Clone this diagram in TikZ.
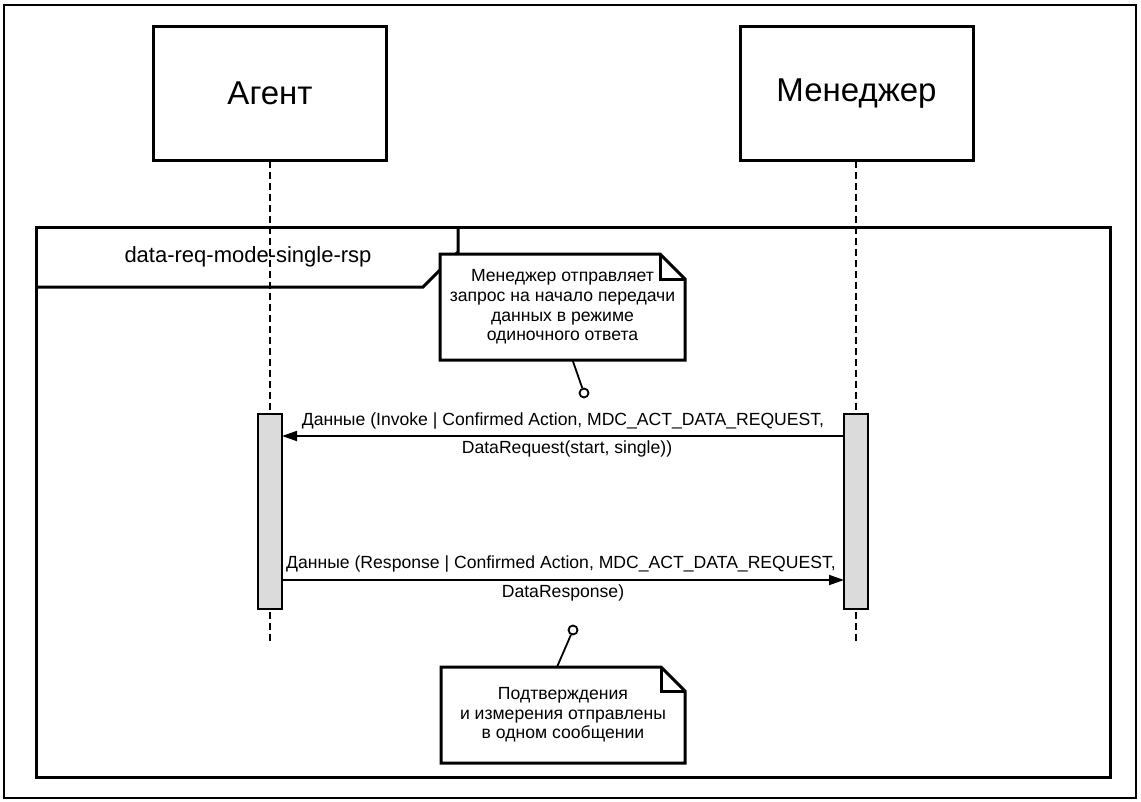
\documentclass[tikz,border=0pt]{standalone}
\usepackage{fontspec}
\setmainfont{Liberation Sans}
\usetikzlibrary{arrows.meta,calc}
\begin{document}
\begin{tikzpicture}[x=1pt,y=-1pt,
  actor/.style={draw, line width=3pt, minimum width=233pt, minimum height=134pt, outer sep=0pt, inner sep=0pt, font=\fontsize{33}{36}\selectfont},
  lifeline/.style={line width=2pt, dash pattern=on 7pt off 4pt},
  actbar/.style={draw, line width=2.5pt, fill=black!14, minimum width=24pt, minimum height=195pt, outer sep=0pt, inner sep=0pt},
  msg/.style={line width=1.8pt, -{Triangle[length=15pt,width=10pt]}},
  lbl/.style={font=\fontsize{17.6}{20}\selectfont, inner sep=0pt},
  notebody/.style={fill=white, outer sep=0pt, inner sep=0pt, align=center, font=\fontsize{17.6}{19.6}\selectfont},
  noteline/.style={line width=3pt, line join=miter},
  pin/.style={circle, draw, line width=1.8pt, fill=white, minimum size=9pt, inner sep=0pt},
  pinline/.style={line width=1.8pt},
]
\useasboundingbox (0,0) rectangle (1141,801);
% outer border
\draw[line width=2.5pt] (4,5) rectangle (1136,798);

% actors
\node[actor] (agent) at (270,93.5) {Агент};
\node[actor] (manager) at (856.5,93.5) {Менеджер};

% fragment frame
\node[draw, line width=3pt, minimum width=1074pt, minimum height=550pt, outer sep=0pt, inner sep=0pt] (frame) at (573,502) {};
\coordinate (tabA) at (36,287);
\coordinate (tabB) at (423,287);
\coordinate (tabC) at (458,252);
\coordinate (tabD) at (458,227);
\draw[line width=3pt, line join=miter] (tabA) -- (tabB) -- (tabC) -- (tabD);
\node[font=\fontsize{22}{24}\selectfont, inner sep=0pt] (fraglabel) at (248,257) {data-req-mode-single-rsp};

% lifelines
\coordinate (aend) at (270,643);
\coordinate (mend) at (856,643);
\draw[lifeline] (agent.south) -- (aend);
\draw[lifeline] (manager.south -| mend) -- (mend);

% activation bars
\node[actbar] (abar) at (270,511.5) {};
\node[actbar] (mbar) at (856,511.5) {};

% messages
\draw[msg] ($(mbar.north west)+(0,22)$) -- ($(abar.north east)+(0,22)$);
\node[lbl] (m1a) at (563,421) {Данные (Invoke | Confirmed Action, MDC\_ACT\_DATA\_REQUEST,};
\node[lbl] (m1b) at (567,449) {DataRequest(start, single))};

\draw[msg] ($(abar.north east)+(0,166)$) -- ($(mbar.north west)+(0,166)$);
\node[lbl] (m2a) at (561,564) {Данные (Response | Confirmed Action, MDC\_ACT\_DATA\_REQUEST,};
\node[lbl] (m2b) at (563,593) {DataResponse)};

% note 1
\node[notebody, minimum width=245pt, minimum height=106pt] (n1) at (562.5,307)
  {Менеджер отправляет\\запрос на начало передачи\\данных в режиме\\одиночного ответа};
\draw[noteline] ($(n1.north east)+(-25,0)$) -- (n1.north west) -- (n1.south west) -- (n1.south east) -- ($(n1.north east)+(0,25)$) -- cycle;
\draw[noteline] ($(n1.north east)+(-25,0)$) |- ($(n1.north east)+(0,25)$);
\node[pin] (c1) at (584,393) {};
\draw[pinline] ($(n1.south)+(10,0)$) -- (c1);

% note 2
\node[notebody, minimum width=244pt, minimum height=96pt] (n2) at (563,715)
  {Подтверждения\\и измерения отправлены\\в одном сообщении};
\draw[noteline] ($(n2.north east)+(-24,0)$) -- (n2.north west) -- (n2.south west) -- (n2.south east) -- ($(n2.north east)+(0,24)$) -- cycle;
\draw[noteline] ($(n2.north east)+(-24,0)$) |- ($(n2.north east)+(0,24)$);
\node[pin] (c2) at (573,630) {};
\draw[pinline] ($(n2.north)+(-6,0)$) -- (c2);
\end{tikzpicture}
\end{document}
